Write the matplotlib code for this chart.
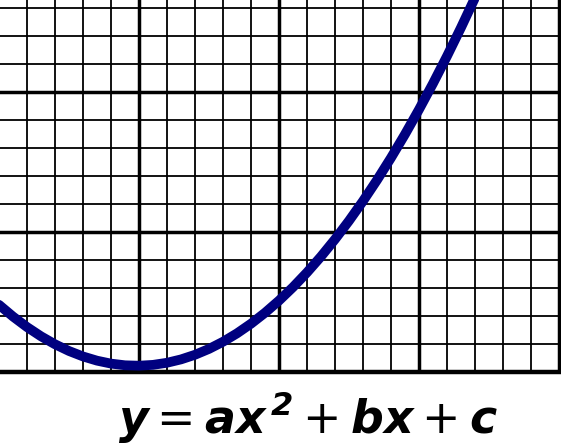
import matplotlib
matplotlib.use("Agg")
import matplotlib.pyplot as plt
from matplotlib.ticker import MultipleLocator

# values (grid units: 1 major cell = 1)
x_vals = [-1.0, -0.9, -0.8, -0.7, -0.6, -0.5, -0.4, -0.3, -0.2, -0.1,
          0.0, 0.1, 0.2, 0.3, 0.4, 0.5, 0.6, 0.7, 0.8, 0.9,
          1.0, 1.1, 1.2, 1.3, 1.4, 1.5, 1.6, 1.7, 1.8, 1.9,
          2.0, 2.1, 2.2, 2.3, 2.4, 2.5]
y_vals = [0.480, 0.396, 0.321, 0.255, 0.198, 0.150, 0.111, 0.081, 0.060, 0.048,
          0.045, 0.051, 0.066, 0.090, 0.123, 0.165, 0.216, 0.276, 0.345, 0.423,
          0.510, 0.606, 0.711, 0.825, 0.948, 1.080, 1.221, 1.371, 1.530, 1.698,
          1.875, 2.061, 2.256, 2.460, 2.673, 2.895]
label = r"$\mathbfit{y} = \mathbfit{ax}^{\,\mathbfit{2}} + \mathbfit{bx} + \mathbfit{c}$"

plt.rcParams['mathtext.fontset'] = 'dejavusans'

fig = plt.figure(figsize=(5.61, 4.46), dpi=100)
ax = fig.add_axes([0, 74 / 446, 1, 372 / 446])
ax.set_xlim(-139 / 140, 422 / 140)
ax.set_ylim(0, 372 / 140)

ax.xaxis.set_major_locator(MultipleLocator(1))
ax.yaxis.set_major_locator(MultipleLocator(1))
ax.xaxis.set_minor_locator(MultipleLocator(0.2))
ax.yaxis.set_minor_locator(MultipleLocator(0.2))
ax.grid(which='major', color='black', linewidth=2.5)
ax.grid(which='minor', color='black', linewidth=1.3)
ax.set_axisbelow(True)
ax.tick_params(which='both', length=0, labelbottom=False, labelleft=False)
for s in ['top', 'left', 'right']:
    ax.spines[s].set_visible(False)
ax.spines['bottom'].set_linewidth(3.2)
ax.spines['bottom'].set_color('black')

ax.plot(x_vals, y_vals, color='#000080', linewidth=7, solid_capstyle='round',
        solid_joinstyle='round', zorder=3)

fig.text(0.549, 0.03, label, ha='center', va='baseline', fontsize=33)

fig.savefig("out.png", dpi=100)
